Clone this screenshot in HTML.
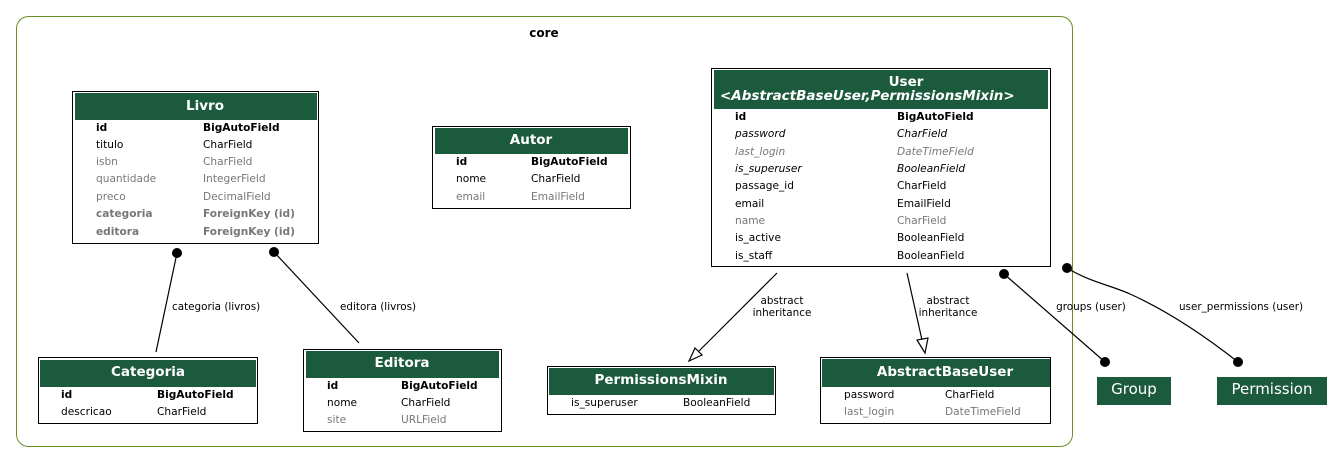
<!DOCTYPE html>
<html><head><meta charset="utf-8"><style>
html,body{margin:0;padding:0;background:#fff;width:1343px;height:464px;overflow:hidden}
svg{display:block;font-family:"DejaVu Sans","Liberation Sans",sans-serif}
.h{fill:#fff;font-weight:bold;font-size:13.5px}
.f{font-size:10.6px;fill:#000}
.g{fill:#777}
.b{font-weight:bold}
.i{font-style:italic}
.l{font-size:10.4px;fill:#000}
</style></head><body>
<svg width="1343" height="464" viewBox="0 0 1343 464">
<rect x="16.5" y="16.5" width="1056" height="430" rx="12" fill="none" stroke="#6b8e23" stroke-width="1"/>
<text x="544" y="37" text-anchor="middle" font-weight="bold" font-size="12">core</text>

<!-- Livro -->
<rect x="72.5" y="91.5" width="246" height="152" fill="#fff" stroke="#000"/>
<rect x="75" y="93" width="242" height="27" fill="#1c5a3e"/>
<text class="h" x="205" y="106" text-anchor="middle" dominant-baseline="central">Livro</text>
<g class="f" dominant-baseline="central">
<text x="96" y="128" class="b">id</text><text x="203" y="128" class="b">BigAutoField</text>
<text x="96" y="145">titulo</text><text x="203" y="145">CharField</text>
<text x="96" y="162" class="g">isbn</text><text x="203" y="162" class="g">CharField</text>
<text x="96" y="179" class="g">quantidade</text><text x="203" y="179" class="g">IntegerField</text>
<text x="96" y="197" class="g">preco</text><text x="203" y="197" class="g">DecimalField</text>
<text x="96" y="214" class="g b">categoria</text><text x="203" y="214" class="g b">ForeignKey (id)</text>
<text x="96" y="232" class="g b">editora</text><text x="203" y="232" class="g b">ForeignKey (id)</text>
</g>

<!-- Autor -->
<rect x="432.5" y="126.5" width="198" height="82" fill="#fff" stroke="#000"/>
<rect x="435" y="128" width="193" height="26" fill="#1c5a3e"/>
<text class="h" x="531" y="140" text-anchor="middle" dominant-baseline="central">Autor</text>
<g class="f" dominant-baseline="central">
<text x="456" y="162" class="b">id</text><text x="531" y="162" class="b">BigAutoField</text>
<text x="456" y="179">nome</text><text x="531" y="179">CharField</text>
<text x="456" y="197" class="g">email</text><text x="531" y="197" class="g">EmailField</text>
</g>

<!-- User -->
<rect x="711.5" y="68.5" width="339" height="198" fill="#fff" stroke="#000"/>
<rect x="714" y="70" width="334" height="39" fill="#1c5a3e"/>
<text class="h" x="906" y="82" text-anchor="middle" dominant-baseline="central">User</text>
<text class="h i" x="720" y="96" dominant-baseline="central">&lt;AbstractBaseUser,PermissionsMixin&gt;</text>
<g class="f" dominant-baseline="central">
<text x="735" y="117" class="b">id</text><text x="897" y="117" class="b">BigAutoField</text>
<text x="735" y="134" class="i">password</text><text x="897" y="134" class="i">CharField</text>
<text x="735" y="152" class="i g">last_login</text><text x="897" y="152" class="i g">DateTimeField</text>
<text x="735" y="169" class="i">is_superuser</text><text x="897" y="169" class="i">BooleanField</text>
<text x="735" y="186">passage_id</text><text x="897" y="186">CharField</text>
<text x="735" y="204">email</text><text x="897" y="204">EmailField</text>
<text x="735" y="221" class="g">name</text><text x="897" y="221" class="g">CharField</text>
<text x="735" y="238">is_active</text><text x="897" y="238">BooleanField</text>
<text x="735" y="256">is_staff</text><text x="897" y="256">BooleanField</text>
</g>

<!-- Categoria -->
<rect x="38.5" y="357.5" width="219" height="66" fill="#fff" stroke="#000"/>
<rect x="40" y="360" width="216" height="27" fill="#1c5a3e"/>
<text class="h" x="148" y="372" text-anchor="middle" dominant-baseline="central">Categoria</text>
<g class="f" dominant-baseline="central">
<text x="61" y="395" class="b">id</text><text x="157" y="395" class="b">BigAutoField</text>
<text x="61" y="412">descricao</text><text x="157" y="412">CharField</text>
</g>

<!-- Editora -->
<rect x="303.5" y="349.5" width="198" height="82" fill="#fff" stroke="#000"/>
<rect x="306" y="351" width="193" height="27" fill="#1c5a3e"/>
<text class="h" x="402" y="363" text-anchor="middle" dominant-baseline="central">Editora</text>
<g class="f" dominant-baseline="central">
<text x="327" y="386" class="b">id</text><text x="401" y="386" class="b">BigAutoField</text>
<text x="327" y="403">nome</text><text x="401" y="403">CharField</text>
<text x="327" y="420" class="g">site</text><text x="401" y="420" class="g">URLField</text>
</g>

<!-- PermissionsMixin -->
<rect x="547.5" y="366.5" width="228" height="48" fill="#fff" stroke="#000"/>
<rect x="549" y="368" width="225" height="27" fill="#1c5a3e"/>
<text class="h" x="661" y="380" text-anchor="middle" dominant-baseline="central">PermissionsMixin</text>
<g class="f" dominant-baseline="central">
<text x="571" y="403">is_superuser</text><text x="683" y="403">BooleanField</text>
</g>

<!-- AbstractBaseUser -->
<rect x="820.5" y="357.5" width="230" height="66" fill="#fff" stroke="#000"/>
<rect x="822" y="359" width="228" height="28" fill="#1c5a3e"/>
<text class="h" x="945" y="372" text-anchor="middle" dominant-baseline="central">AbstractBaseUser</text>
<g class="f" dominant-baseline="central">
<text x="844" y="395">password</text><text x="945" y="395">CharField</text>
<text x="844" y="412" class="g">last_login</text><text x="945" y="412" class="g">DateTimeField</text>
</g>

<!-- Group / Permission -->
<rect x="1097" y="377" width="74" height="28" fill="#1c5a3e"/>
<text x="1134" y="389" fill="#fff" font-size="15" text-anchor="middle" dominant-baseline="central">Group</text>
<rect x="1217" y="377" width="110" height="28" fill="#1c5a3e"/>
<text x="1272" y="389" fill="#fff" font-size="15" text-anchor="middle" dominant-baseline="central">Permission</text>

<!-- edges -->
<g stroke="#000" fill="none" stroke-width="1.2">
<line x1="177" y1="253" x2="156" y2="352"/>
<line x1="274" y1="252" x2="359" y2="343"/>
<line x1="777" y1="273" x2="698" y2="352"/>
<line x1="907" y1="273" x2="922" y2="340"/>
<line x1="1004" y1="274" x2="1105" y2="362"/>
<path d="M1067 268 C1090 282,1110 285,1130 294 C1170 312,1210 340,1238 362"/>
</g>
<g fill="#fff" stroke="#000" stroke-width="1.2">
<polygon points="689,361 695,348 702,355"/>
<polygon points="925,353 917,340 928,338"/>
</g>
<g fill="#000">
<circle cx="177" cy="253" r="5"/>
<circle cx="274" cy="252" r="5"/>
<circle cx="1004" cy="274" r="5"/>
<circle cx="1105" cy="362" r="5"/>
<circle cx="1067" cy="268" r="5"/>
<circle cx="1238" cy="362" r="5"/>
</g>
<g class="l" dominant-baseline="central">
<text x="172" y="307">categoria (livros)</text>
<text x="340" y="307">editora (livros)</text>
<text x="782" y="301" text-anchor="middle">abstract</text>
<text x="782" y="313" text-anchor="middle">inheritance</text>
<text x="948" y="301" text-anchor="middle">abstract</text>
<text x="948" y="313" text-anchor="middle">inheritance</text>
<text x="1091" y="307" text-anchor="middle">groups (user)</text>
<text x="1241" y="307" text-anchor="middle">user_permissions (user)</text>
</g>
</svg>
</body></html>
